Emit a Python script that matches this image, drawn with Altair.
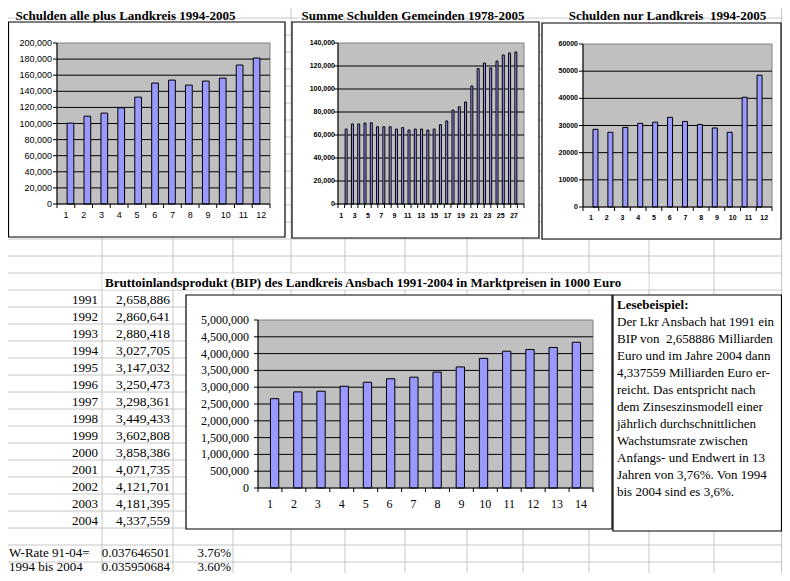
import altair as alt
import pandas as pd

# ------------------------------------------------------------------ data
TITLE_ALLE = "Schulden alle plus Landkreis 1994-2005"
SCHULDEN_ALLE = [100500, 109100, 112900, 119500, 132800, 150200,
                 153900, 147700, 152700, 156400, 172600, 181300]
TICKS_ALLE = [0, 20000, 40000, 60000, 80000, 100000, 120000,
              140000, 160000, 180000, 200000]

TITLE_GEM = "Summe Schulden Gemeinden 1978-2005"
SCHULDEN_GEM = [65200, 69600, 69600, 70400, 70700, 67200, 67200,
                67200, 65200, 66400, 64300, 65200, 65200, 64300,
                65200, 69000, 72200, 81700, 84600, 88700, 102600,
                117700, 122600, 118300, 124300, 129600, 131300, 132200]
TICKS_GEM = [0, 20000, 40000, 60000, 80000, 100000, 120000, 140000]

TITLE_LKR = "Schulden nur Landkreis\u00a0 1994-2005"
SCHULDEN_LKR = [28600, 27500, 29300, 30800, 31200, 33000,
                31500, 30400, 29100, 27500, 40400, 48500]
TICKS_LKR = [0, 10000, 20000, 30000, 40000, 50000, 60000]

TITLE_BIP = ("Bruttoinlandsprodukt (BIP) des Landkreis Ansbach "
             "1991-2004 in Marktpreisen in 1000 Euro")
BIP_YEARS = [1991, 1992, 1993, 1994, 1995, 1996, 1997,
             1998, 1999, 2000, 2001, 2002, 2003, 2004]
BIP_VALUES = [2658886, 2860641, 2880418, 3027705, 3147032, 3250473,
              3298361, 3449433, 3602808, 3858386, 4071735, 4121701,
              4181395, 4337559]
TICKS_BIP = [0, 500000, 1000000, 1500000, 2000000, 2500000,
             3000000, 3500000, 4000000, 4500000, 5000000]

RATE_LABELS = ["W-Rate 91-04=", "1994 bis 2004"]
RATE_VALUES = ["0.037646501", "0.035950684"]
RATE_PCT = ["3.76%", "3.60%"]

NOTE_TITLE = "Lesebeispiel:"
NOTE_LINES = [
    "Der Lkr Ansbach hat 1991 ein",
    "BIP von\u00a0 2,658886 Milliarden",
    "Euro und im Jahre 2004 dann",
    "4,337559 Milliarden Euro er-",
    "reicht. Das entspricht nach",
    "dem Zinseszinsmodell einer",
    "jährlich durchschnittlichen",
    "Wachstumsrate zwischen",
    "Anfangs- und Endwert in 13",
    "Jahren von 3,76%. Von 1994",
    "bis 2004 sind es 3,6%.",
]

# ------------------------------------------------------------------ layout / style
OFF = 8
W, H = 774, 565
SERIF = "Liberation Serif"
SANS = "Liberation Sans"
GRID = "#C6C6C6"
BAR_FILL = "#9999FF"
PLOT_FILL = "#C0C0C0"
COL_EDGES = [102, 173, 233, 291, 345, 405, 467, 523, 589, 649, 714, 781.5]
TITLE_Y = 15.5


def px(v):
    return v - OFF


ONE = pd.DataFrame({"k": [0]})


def box(x0, y0, x1, y1, fill, stroke, sw):
    return alt.Chart(ONE).mark_rect(fill=fill, stroke=stroke, strokeWidth=sw).encode(
        x=alt.value(px(x0)), x2=alt.value(px(x1)),
        y=alt.value(px(y0)), y2=alt.value(px(y1)))


def hline(x0, x1, y, color="black", sw=1):
    return alt.Chart(ONE).mark_rule(color=color, strokeWidth=sw).encode(
        x=alt.value(px(x0)), x2=alt.value(px(x1)), y=alt.value(px(y)))


def vline(x, y0, y1, color="black", sw=1):
    return alt.Chart(ONE).mark_rule(color=color, strokeWidth=sw).encode(
        x=alt.value(px(x)), y=alt.value(px(y0)), y2=alt.value(px(y1)))


def text_at(s, x, y, font, size, weight="normal", align="left"):
    return alt.Chart(pd.DataFrame({"s": [s]})).mark_text(
        align=align, baseline="middle", font=font, fontSize=size,
        fontWeight=weight, color="black").encode(
        x=alt.value(px(x)), y=alt.value(px(y)), text="s:N")


def panel(values, ticks, frame, plot, bar_w, ylab_x, xlab_y,
          font, size, weight, fmt, label_step=1):
    n = len(values)
    x0, y0, x1, y1 = plot
    df = pd.DataFrame({"i": list(range(1, n + 1)), "v": values})
    tdf = pd.DataFrame({"t": ticks})

    def xs():
        return alt.Scale(domain=[0.5, n + 0.5], range=[px(x0), px(x1)],
                         nice=False, zero=False)

    def ys():
        return alt.Scale(domain=[0, ticks[-1]], range=[px(y1), px(y0)],
                         nice=False, zero=False)

    L = []
    L.append(box(*frame, "white", "black", 1.2))
    L.append(box(x0, y0, x1, y1, PLOT_FILL, "#808080", 1))
    L.append(alt.Chart(tdf).transform_filter(
        f"datum.t > 0 && datum.t < {ticks[-1]}").mark_rule(
        color="black", strokeWidth=1).encode(
        y=alt.Y("t:Q", scale=ys(), axis=None),
        x=alt.value(px(x0)), x2=alt.value(px(x1))))
    L.append(alt.Chart(tdf).mark_rule(color="black").encode(
        y=alt.Y("t:Q", scale=ys(), axis=None),
        x=alt.value(px(x0) - 4), x2=alt.value(px(x0))))
    L.append(alt.Chart(tdf).mark_text(
        align="right", baseline="middle", font=font, fontSize=size,
        fontWeight=weight, color="black").encode(
        y=alt.Y("t:Q", scale=ys(), axis=None),
        x=alt.value(px(ylab_x)),
        text=alt.Text("t:Q", format=fmt)))
    L.append(alt.Chart(df).mark_bar(
        size=bar_w, fill=BAR_FILL, stroke="black", strokeWidth=1,
        orient="vertical").encode(
        x=alt.X("i:Q", scale=xs(), axis=None),
        y=alt.Y("v:Q", scale=ys(), axis=None, stack=None)))
    L.append(vline(x0, y0, y1))
    L.append(hline(x0, x1, y1))
    L.append(alt.Chart(alt.sequence(0, n + 1, as_="k")).transform_calculate(
        b="datum.k + 0.5").mark_rule(color="black").encode(
        x=alt.X("b:Q", scale=xs(), axis=None),
        y=alt.value(px(y1)), y2=alt.value(px(y1) + 4)))
    lab = alt.Chart(df)
    if label_step > 1:
        lab = lab.transform_filter(f"datum.i % {label_step} == 1")
    L.append(lab.mark_text(
        align="center", baseline="middle", font=font, fontSize=size,
        fontWeight=weight, color="black").encode(
        x=alt.X("i:Q", scale=xs(), axis=None),
        y=alt.value(px(xlab_y)), text="i:Q"))
    return L


layers = []

# spreadsheet grid
layers.append(alt.Chart(alt.sequence(0, 35, as_="k")).mark_rule(color=GRID).encode(
    y=alt.Y("k:Q", scale=alt.Scale(domain=[0, 34], range=[px(1), px(579)],
                                   nice=False, zero=False), axis=None),
    x=alt.value(0), x2=alt.value(W)))
layers.append(alt.Chart(pd.DataFrame({"c": COL_EDGES})).mark_rule(color=GRID).encode(
    x=alt.X("c:Q", scale=alt.Scale(domain=[0, 790], range=[px(0), px(790)],
                                   nice=False, zero=False), axis=None),
    y=alt.value(0), y2=alt.value(H)))

# cover grid under overflowing titles
layers.append(box(10, 2, 240, 17.5, "white", "white", 0))
layers.append(box(297, 2, 528, 17.5, "white", "white", 0))
layers.append(box(562, 2, 772, 17.5, "white", "white", 0))
layers.append(box(102.5, 273.5, 648.5, 289.5, "white", "white", 0))

# titles
layers.append(text_at(TITLE_ALLE, 125.5, TITLE_Y, SERIF, 13, "bold", "center"))
layers.append(text_at(TITLE_GEM, 413, TITLE_Y, SERIF, 13, "bold", "center"))
layers.append(text_at(TITLE_LKR, 667.5, TITLE_Y, SERIF, 13, "bold", "center"))
layers.append(text_at(TITLE_BIP, 105, 283, SERIF, 13, "bold", "left"))

# charts
layers += panel(SCHULDEN_ALLE, TICKS_ALLE, (8.5, 22, 285, 237), (57, 43, 270, 204),
                6.7, 52, 215, SANS, 9, "normal", ",")
layers += panel(SCHULDEN_GEM, TICKS_GEM, (292, 22, 539, 238), (338, 43, 524, 204),
                2, 335, 216, SANS, 7, "bold", ",", label_step=2)
layers += panel(SCHULDEN_LKR, TICKS_LKR, (542, 23, 781, 239), (583, 44, 772, 207),
                5, 578, 218, SANS, 7, "bold", "d")
layers += panel(BIP_VALUES, TICKS_BIP, (186, 295, 612, 529), (258, 320, 593, 488),
                8.3, 249, 504, SERIF, 12, "normal", ",")

# table
row_scale = alt.Scale(domain=[0, 13], range=[px(299.5), px(520.5)], nice=False, zero=False)
tab = pd.DataFrame({"r": list(range(len(BIP_YEARS))), "year": BIP_YEARS, "val": BIP_VALUES})
layers.append(alt.Chart(tab).mark_text(align="right", baseline="middle", font=SERIF,
                                       fontSize=13, color="black").encode(
    y=alt.Y("r:Q", scale=row_scale, axis=None), x=alt.value(px(98)),
    text=alt.Text("year:Q", format="d")))
layers.append(alt.Chart(tab).mark_text(align="right", baseline="middle", font=SERIF,
                                       fontSize=13.5, color="black").encode(
    y=alt.Y("r:Q", scale=row_scale, axis=None), x=alt.value(px(170)),
    text=alt.Text("val:Q", format=",")))
rate_scale = alt.Scale(domain=[0, 1], range=[px(552.5), px(567)], nice=False, zero=False)
rates = pd.DataFrame({"r": [0, 1], "lab": RATE_LABELS, "val": RATE_VALUES, "pct": RATE_PCT})
layers.append(alt.Chart(rates).mark_text(align="left", baseline="middle", font=SERIF,
                                         fontSize=13, color="black").encode(
    y=alt.Y("r:Q", scale=rate_scale, axis=None), x=alt.value(1), text="lab:N"))
layers.append(alt.Chart(rates).mark_text(align="right", baseline="middle", font=SERIF,
                                         fontSize=13, color="black").encode(
    y=alt.Y("r:Q", scale=rate_scale, axis=None), x=alt.value(px(170)), text="val:N"))
layers.append(alt.Chart(rates).mark_text(align="right", baseline="middle", font=SERIF,
                                         fontSize=13, color="black").encode(
    y=alt.Y("r:Q", scale=rate_scale, axis=None), x=alt.value(px(231)), text="pct:N"))

# note box
layers.append(box(613, 295, 781.5, 531, "white", "black", 1.2))
note_scale = alt.Scale(domain=[0, 11], range=[px(305), px(492)], nice=False, zero=False)
layers.append(text_at(NOTE_TITLE, 617, 305, SERIF, 13, "bold", "left"))
notes = pd.DataFrame({"r": list(range(1, len(NOTE_LINES) + 1)), "s": NOTE_LINES})
layers.append(alt.Chart(notes).mark_text(align="left", baseline="middle", font=SERIF,
                                         fontSize=13, color="black").encode(
    y=alt.Y("r:Q", scale=note_scale, axis=None), x=alt.value(px(617)), text="s:N"))

chart = alt.layer(*layers).resolve_scale(x="independent", y="independent").properties(
    width=W, height=H, autosize=alt.AutoSizeParams(type="none"), padding=0,
    background="white").configure_view(stroke=None)

chart.save("out.html", embed_options={"renderer": "svg", "actions": False})
